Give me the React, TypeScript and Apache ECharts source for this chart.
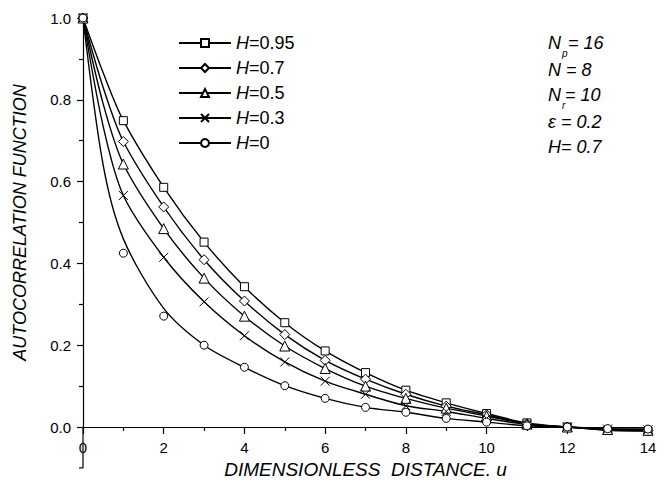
import React, { useEffect, useRef } from "react";
import * as echarts from "echarts";

const uValues = [0, 1, 2, 3, 4, 5, 6, 7, 8, 9, 10, 11, 12, 13, 14];
const seriesNames = ["H=0.95", "H=0.7", "H=0.5", "H=0.3", "H=0"];
// simulated points (markers)
const markH095 = [1, 0.749, 0.586, 0.452, 0.343, 0.255, 0.186, 0.133, 0.09, 0.059, 0.033, 0.01, 0.0, -0.008, -0.01];
const markH07 = [1, 0.698, 0.538, 0.409, 0.308, 0.226, 0.163, 0.117, 0.08, 0.051, 0.03, 0.008, 0.0, -0.007, -0.009];
const markH05 = [1, 0.643, 0.485, 0.364, 0.271, 0.198, 0.143, 0.1, 0.07, 0.046, 0.027, 0.007, 0.0, -0.006, -0.008];
const markH03 = [1, 0.566, 0.415, 0.306, 0.223, 0.159, 0.112, 0.08, 0.052, 0.038, 0.021, 0.006, 0.0, -0.005, -0.007];
const markH0 = [1, 0.425, 0.271, 0.2, 0.146, 0.101, 0.07, 0.048, 0.036, 0.021, 0.012, 0.003, 0.0, -0.004, -0.005];
// fitted curves (including u = 0.5)
const curveU = [0, 0.5, 1, 2, 3, 4, 5, 6, 7, 8, 9, 10, 11, 12, 13, 14];
const curveH095 = [1, 0.866, 0.749, 0.586, 0.452, 0.343, 0.255, 0.186, 0.133, 0.09, 0.059, 0.033, 0.01, 0.0, -0.008, -0.01];
const curveH07 = [1, 0.83, 0.698, 0.538, 0.409, 0.308, 0.226, 0.163, 0.117, 0.08, 0.051, 0.03, 0.008, 0.0, -0.007, -0.009];
const curveH05 = [1, 0.79, 0.643, 0.485, 0.364, 0.271, 0.198, 0.143, 0.1, 0.07, 0.046, 0.027, 0.007, 0.0, -0.006, -0.008];
const curveH03 = [1, 0.735, 0.566, 0.415, 0.306, 0.223, 0.159, 0.112, 0.08, 0.052, 0.038, 0.021, 0.006, 0.0, -0.005, -0.007];
const curveH0 = [1, 0.64, 0.46, 0.29, 0.2, 0.146, 0.101, 0.07, 0.048, 0.036, 0.021, 0.012, 0.003, 0.0, -0.004, -0.005];
const yTicks = [0, 0.2, 0.4, 0.6, 0.8, 1.0];
const xTicks = [0, 2, 4, 6, 8, 10, 12, 14];

const FONT = "'Liberation Sans', Arial, sans-serif";
const crossPath = "path://M0,0L10,10M10,0L0,10";

export default function App() {
  const ref = useRef<HTMLDivElement>(null);
  useEffect(() => {
    if (!ref.current) return;
    const chart = echarts.init(ref.current, undefined, { renderer: "svg" });
    const marks = [markH095, markH07, markH05, markH03, markH0];
    const curves = [curveH095, curveH07, curveH05, curveH03, curveH0];
    const symbols = ["rect", "diamond", "triangle", crossPath, "circle"];
    const sizes = [8, 10, 10, 9, 8];
    const zip = (xs: number[], arr: number[]) => xs.map((u, i) => [u, arr[i]]);

    const lineSeries = seriesNames.map((name, k) => ({
      type: "line",
      name,
      data: zip(curveU, curves[k]),
      smooth: 0.3,
      showSymbol: false,
      symbol: symbols[k],
      symbolSize: sizes[k],
      clip: false,
      z: 2,
      lineStyle: { color: "#000", width: 1.4 },
      itemStyle: { color: "#fff", borderColor: "#000", borderWidth: 1 },
      emphasis: { disabled: true },
    }));
    const markSeries = seriesNames.map((name, k) => ({
      type: "scatter",
      name,
      data: zip(uValues, marks[k]),
      symbol: symbols[k],
      symbolSize: sizes[k],
      clip: false,
      z: 3,
      itemStyle: {
        color: k === 3 ? "none" : "#fff",
        borderColor: "#000",
        borderWidth: 1,
        opacity: 1,
      },
      emphasis: { disabled: true },
    }));

    chart.setOption({
      animation: false,
      backgroundColor: "#fff",
      textStyle: { fontFamily: FONT },
      grid: { left: 75, right: 16, top: 10, bottom: 59, outerBoundsMode: "none" },
      legend: {
        data: seriesNames,
        orient: "vertical",
        left: 165,
        top: 21,
        itemWidth: 52,
        itemHeight: 10,
        itemGap: 7,
        selectedMode: false,
        formatter: (n: string) => "{i|H}" + n.slice(1),
        textStyle: {
          fontFamily: FONT,
          fontSize: 18,
          color: "#000",
          lineHeight: 18,
          rich: { i: { fontStyle: "italic", fontSize: 18, fontFamily: FONT, color: "#000" } },
        },
      },
      xAxis: {
        type: "value",
        min: xTicks[0],
        max: xTicks[xTicks.length - 1],
        interval: 2,
        name: "DIMENSIONLESS  DISTANCE. u",
        nameLocation: "middle",
        nameGap: 30,
        nameTextStyle: { fontFamily: FONT, fontSize: 19, fontStyle: "italic", color: "#000" },
        axisLine: { lineStyle: { color: "#000", width: 1.2 } },
        axisTick: { length: 7, lineStyle: { color: "#000", width: 1.2 } },
        minorTick: { show: true, splitNumber: 2, length: 4, lineStyle: { color: "#000", width: 1.2 } },
        splitLine: { show: false },
        axisLabel: { fontFamily: FONT, fontSize: 15, color: "#000", margin: 13 },
      },
      yAxis: {
        type: "value",
        min: yTicks[0],
        max: yTicks[yTicks.length - 1],
        interval: 0.2,
        name: "AUTOCORRELATION FUNCTION",
        nameLocation: "middle",
        nameGap: 54,
        nameTextStyle: { fontFamily: FONT, fontSize: 18, fontStyle: "italic", color: "#000" },
        axisLine: { show: true, lineStyle: { color: "#000", width: 1.2 } },
        axisTick: { show: true, length: 6, lineStyle: { color: "#000", width: 1.2 } },
        minorTick: { show: true, splitNumber: 2, length: 4, lineStyle: { color: "#000", width: 1.2 } },
        splitLine: { show: false },
        axisLabel: {
          fontFamily: FONT,
          fontSize: 15,
          color: "#000",
          margin: 12,
          formatter: (v: number) => v.toFixed(1),
        },
      },
      series: [...lineSeries, ...markSeries],
    });

    // extend the y axis line below zero down to -0.1 (as in the original frame)
    const p0 = chart.convertToPixel({ gridIndex: 0 }, [0, 0]) as number[];
    const p1 = chart.convertToPixel({ gridIndex: 0 }, [0, -0.1]) as number[];
    const ax = 540; // annotation block left
    const textStyle = (t: string, size = 18) => ({
      text: t,
      font: `italic ${size}px ${FONT}`,
      fill: "#000",
      verticalAlign: "middle",
    });
    chart.setOption({
      graphic: [
        { type: "line", silent: true, shape: { x1: p0[0], y1: p0[1], x2: p1[0], y2: p1[1] }, style: { stroke: "#000", lineWidth: 1.2 } },
        { type: "line", silent: true, shape: { x1: p1[0] - 4, y1: p1[1], x2: p1[0], y2: p1[1] }, style: { stroke: "#000", lineWidth: 1.2 } },
        { type: "text", x: ax, y: 35, style: textStyle("N") },
        { type: "text", x: ax + 14, y: 45, style: textStyle("p", 10) },
        { type: "text", x: ax + 20, y: 35, style: textStyle("= 16") },
        { type: "text", x: ax, y: 62, style: textStyle("N = 8") },
        { type: "text", x: ax, y: 87, style: textStyle("N") },
        { type: "text", x: ax + 14, y: 97, style: textStyle("r", 10) },
        { type: "text", x: ax + 17, y: 87, style: textStyle("= 10") },
        { type: "text", x: ax, y: 114, style: textStyle("\u03b5 = 0.2") },
        { type: "text", x: ax, y: 139, style: textStyle("H= 0.7") },
      ],
    });
    return () => chart.dispose();
  }, []);
  return <div ref={ref} style={{ width: 656, height: 478 }} />;
}
